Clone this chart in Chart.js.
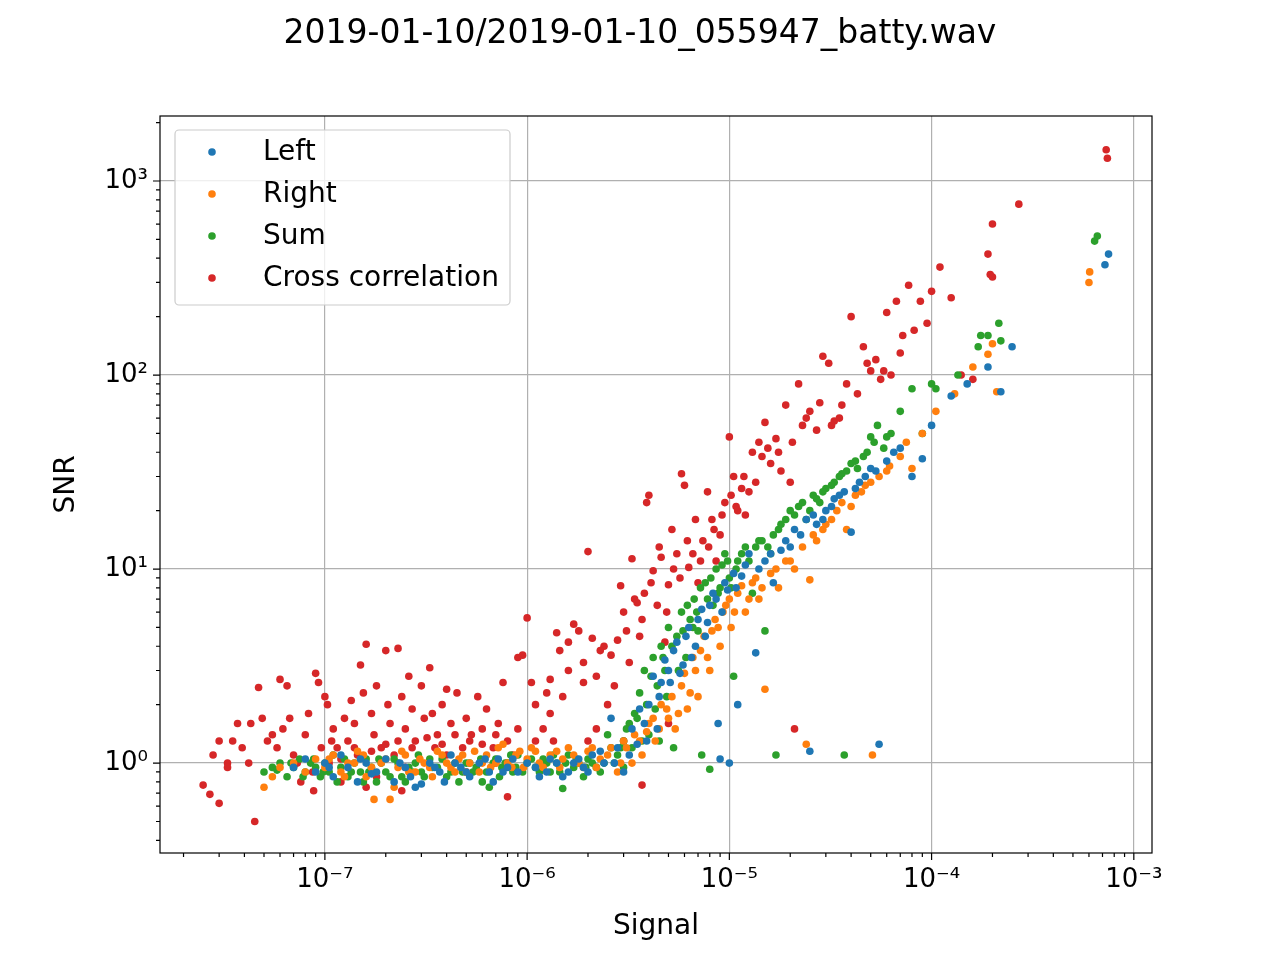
<!DOCTYPE html>
<html><head><meta charset="utf-8">
<script src="https://cdn.jsdelivr.net/npm/chart.js@4/dist/chart.umd.min.js"></script>
<style>body{margin:0;background:#fff}#wrap{width:1280px;height:960px}</style>
</head><body><div id="wrap"><canvas id="c" width="1280" height="960"></canvas></div>
<script>
const titleText = "2019-01-10/2019-01-10_055947_batty.wav";
const seriesNames = ["Left","Right","Sum","Cross correlation"];
const xTickLabels = {"-7":"10⁻⁷","-6":"10⁻⁶","-5":"10⁻⁵","-4":"10⁻⁴","-3":"10⁻³"};
const yTickLabels = {"0":"10⁰","1":"10¹","2":"10²","3":"10³"};

const leftPts = [[7e-8,0.95],[8e-8,1.05],[9e-8,0.9],[1e-7,1.0],[1.1e-7,0.85],[1.2e-7,1.1],[1.3e-7,0.95],[1.45e-7,0.8],[1.6e-7,1.0],[1.8e-7,0.9],[2e-7,1.05],[2.2e-7,0.8],[2.5e-7,0.95],[2.8e-7,0.75],[3e-7,0.78],[3.3e-7,1.0],[3.7e-7,0.9],[4.2e-7,1.1],[4.7e-7,0.95],[5.2e-7,0.85],[5.8e-7,1.0],[6.5e-7,0.9],[7.2e-7,1.05],[8e-7,0.95],[9e-7,0.9],[1e-6,1.0],[1.15e-6,0.85],[1.3e-6,1.05],[1.5e-6,0.85],[1.7e-6,1.0],[1.9e-6,0.95],[2.1e-6,1.1],[2.4e-6,1.0],[2.6e-6,1.7],[2.8e-6,1.2],[3e-6,0.9],[3.3e-6,1.5],[3.6e-6,1.9],[3.9e-6,1.3],[4.2e-6,2.8],[4.5e-6,2.2],[4.8e-6,3.4],[5.1e-6,2.6],[5.5e-6,4.2],[5.9e-6,3.2],[6.3e-6,5.0],[6.8e-6,4.0],[7.3e-6,6.2],[7.8e-6,5.3],[8.3e-6,7.5],[8.8e-6,1.6],[9e-6,1.05],[9.5e-6,8.5],[1e-5,1.0],[1.05e-5,9.5],[1.1e-5,2.0],[1.2e-5,10.5],[1.35e-5,3.7],[1.5e-5,11],[1.65e-5,8.5],[1.8e-5,12.5],[2e-5,13],[2.25e-5,15],[2.5e-5,1.15],[2.7e-5,17],[3e-5,20],[3.3e-5,23],[3.7e-5,25],[4e-5,15.5],[4.4e-5,28],[5e-5,33],[5.5e-5,1.25],[6e-5,36],[7e-5,42],[8e-5,30],[9e-5,37],[1e-4,55],[1.25e-4,78],[1.5e-4,90],[1.9e-4,110],[2.2e-4,82],[2.5e-4,140],[7.2e-4,370],[7.5e-4,420],
[1.05e-7,0.95],[1.5e-7,1.05],[1.7e-7,0.88],[2.35e-7,1.0],[2.65e-7,0.85],[3.5e-7,0.95],[3.9e-7,0.8],[4.4e-7,1.0],[5e-7,0.9],[6.2e-7,1.05],[6.8e-7,0.8],[7.6e-7,0.9],[8.5e-7,1.05],[1.1e-6,0.95],[1.25e-6,0.9],[1.4e-6,1.0],[1.6e-6,0.9],[1.8e-6,1.05],[2e-6,0.9],[2.3e-6,1.15],[2.7e-6,1.0],[3.2e-6,1.1],[3.5e-6,1.25],[3.8e-6,1.6],[4e-6,2.0],[4.4e-6,1.5],[4.6e-6,2.6],[5e-6,3.0],[5.3e-6,3.8],[5.7e-6,2.9],[6.1e-6,4.5],[6.5e-6,3.5],[7e-6,5.5],[7.6e-6,4.5],[8e-6,6.5],[8.6e-6,7.0],[9.2e-6,6.0],[9.8e-6,7.8],[1.08e-5,8.0],[1.15e-5,9.2],[1.25e-5,12],[1.4e-5,10],[1.6e-5,12],[1.9e-5,14],[2.1e-5,16],[2.4e-5,18],[2.6e-5,19],[2.9e-5,18],[3.2e-5,21],[3.5e-5,24],[4.2e-5,26],[4.7e-5,30],[5.3e-5,32],[6.5e-5,40]];

const rightPts = [[5e-8,0.75],[5.5e-8,0.85],[6e-8,0.95],[7e-8,1.0],[8e-8,0.9],[9e-8,1.05],[1e-7,0.95],[1.1e-7,1.1],[1.2e-7,0.9],[1.3e-7,1.0],[1.45e-7,1.15],[1.6e-7,0.85],[1.75e-7,0.65],[1.9e-7,1.0],[2.1e-7,0.65],[2.3e-7,0.95],[2.5e-7,1.1],[2.8e-7,0.9],[3.1e-7,1.0],[3.4e-7,0.85],[3.8e-7,1.1],[4.2e-7,0.95],[4.6e-7,1.05],[5e-7,0.9],[5.5e-7,1.15],[6e-7,1.0],[6.6e-7,0.95],[7.2e-7,1.2],[8e-7,1.0],[8.8e-7,1.1],[9.6e-7,0.95],[1.05e-6,1.2],[1.15e-6,1.0],[1.3e-6,1.1],[1.45e-6,0.95],[1.6e-6,1.2],[1.8e-6,1.0],[2e-6,1.15],[2.2e-6,0.95],[2.5e-6,1.1],[2.8e-6,0.9],[3.1e-6,1.2],[3.4e-6,1.4],[3.7e-6,1.1],[4e-6,1.6],[4.3e-6,1.3],[4.6e-6,2.0],[5e-6,1.7],[5.4e-6,1.5],[5.8e-6,2.5],[6.2e-6,1.9],[6.6e-6,3.5],[7e-6,2.2],[7.5e-6,4.5],[8e-6,3.0],[8.5e-6,5.5],[9e-6,4.0],[9.6e-6,6.5],[1.02e-5,5.0],[1.1e-5,7.5],[1.2e-5,6.0],[1.3e-5,8.5],[1.4e-5,7.0],[1.5e-5,2.4],[1.6e-5,9.5],[1.75e-5,8.0],[1.9e-5,11],[2.1e-5,10],[2.4e-5,1.25],[2.5e-5,8.8],[2.7e-5,14],[3e-5,17],[3.4e-5,20],[3.8e-5,16],[4.2e-5,24],[4.7e-5,27],[5.1e-5,1.1],[5.5e-5,30],[6.2e-5,34],[7e-5,38],[8e-5,33],[9e-5,50],[1.05e-4,65],[1.3e-4,80],[1.6e-4,110],[1.9e-4,128],[2e-4,145],[2.1e-4,82],[6e-4,300],[6.05e-4,340],
[1.05e-7,1.05],[1.25e-7,0.85],[1.4e-7,1.0],[1.55e-7,1.1],[1.7e-7,0.95],[2e-7,1.05],[2.2e-7,0.75],[2.4e-7,1.15],[2.6e-7,0.9],[2.95e-7,1.05],[3.3e-7,0.95],[3.6e-7,1.15],[4e-7,1.0],[4.4e-7,0.9],[4.8e-7,1.1],[5.2e-7,1.0],[5.8e-7,0.9],[6.3e-7,1.1],[7e-7,1.0],[7.6e-7,1.25],[8.4e-7,0.95],[9.2e-7,1.15],[1e-6,1.05],[1.1e-6,1.15],[1.2e-6,0.95],[1.4e-6,1.15],[1.5e-6,1.05],[1.7e-6,1.1],[1.9e-6,0.95],[2.1e-6,1.2],[2.3e-6,1.05],[2.6e-6,1.2],[2.9e-6,1.0],[3e-6,1.3],[3.3e-6,1.0],[3.6e-6,1.3],[3.9e-6,1.45],[4.2e-6,1.7],[4.5e-6,1.5],[4.9e-6,1.9],[5.2e-6,2.2],[5.6e-6,1.8],[6e-6,2.9],[6.4e-6,2.3],[6.8e-6,3.0],[7.2e-6,3.8],[7.8e-6,3.5],[8.2e-6,4.8],[8.8e-6,5.0],[9.3e-6,6.0],[1e-5,7.0],[1.06e-5,6.0],[1.15e-5,8.2],[1.25e-5,7.0],[1.35e-5,9.0],[1.45e-5,8.0],[1.7e-5,10],[2e-5,11],[2.3e-5,13],[2.6e-5,15],[2.9e-5,16],[3.2e-5,18],[3.6e-5,22],[4e-5,21],[4.5e-5,25],[5e-5,28],[6e-5,32],[7.5e-5,45]];

const sumPts = [[5e-8,0.9],[5.5e-8,0.95],[6e-8,1.0],[6.5e-8,0.85],[7e-8,0.95],[7.5e-8,1.05],[8e-8,0.9],[8.5e-8,1.0],[9e-8,0.95],[9.5e-8,0.85],[1e-7,1.0],[1.05e-7,0.9],[1.1e-7,1.1],[1.2e-7,0.95],[1.3e-7,0.85],[1.4e-7,1.0],[1.5e-7,0.9],[1.6e-7,1.05],[1.7e-7,0.95],[1.8e-7,0.8],[1.9e-7,1.0],[2e-7,0.9],[2.2e-7,1.05],[2.4e-7,0.85],[2.6e-7,0.95],[2.8e-7,1.0],[3e-7,0.9],[3.3e-7,1.05],[3.6e-7,0.95],[4e-7,0.85],[4.4e-7,1.0],[4.8e-7,0.9],[5.2e-7,1.0],[5.6e-7,0.95],[6e-7,0.8],[6.5e-7,0.75],[7e-7,1.05],[7.5e-7,0.95],[8e-7,1.0],[8.5e-7,0.9],[9e-7,1.1],[1e-6,1.0],[1.1e-6,0.95],[1.2e-6,1.05],[1.3e-6,0.9],[1.4e-6,1.0],[1.5e-6,0.74],[1.6e-6,1.1],[1.7e-6,0.95],[1.8e-6,1.0],[1.9e-6,0.85],[2e-6,1.05],[2.2e-6,0.95],[2.4e-6,1.0],[2.5e-6,1.4],[2.6e-6,1.2],[2.8e-6,1.1],[3e-6,1.3],[3e-6,0.95],[3.2e-6,1.6],[3.4e-6,1.8],[3.5e-6,1.7],[3.6e-6,2.3],[3.8e-6,3.0],[4e-6,1.4],[4.2e-6,3.5],[4.4e-6,2.5],[4.5e-6,1.3],[4.6e-6,4.0],[4.8e-6,3.0],[5e-6,5.0],[5.3e-6,1.2],[5.5e-6,4.5],[5.8e-6,6.0],[6.1e-6,3.5],[6.4e-6,5.5],[6.7e-6,7.0],[7e-6,4.8],[7.3e-6,1.1],[7.6e-6,8.5],[8e-6,0.93],[8.3e-6,6.5],[8.6e-6,10],[9e-6,8],[9.5e-6,12],[1e-5,9],[1.05e-5,2.8],[1.1e-5,11],[1.2e-5,13],[1.3e-5,7.5],[1.4e-5,14],[1.5e-5,4.8],[1.6e-5,12],[1.7e-5,1.1],[1.75e-5,16],[1.9e-5,18],[2e-5,20],[2.2e-5,21],[2.4e-5,18],[2.6e-5,24],[2.8e-5,22],[3e-5,26],[3.3e-5,28],[3.6e-5,31],[3.7e-5,1.1],[4e-5,35],[4.3e-5,33],[4.6e-5,38],[5e-5,48],[5.4e-5,55],[5.8e-5,42],[6.3e-5,50],[7e-5,65],[8e-5,85],[9e-5,50],[1e-4,90],[1.05e-4,85],[1.35e-4,100],[1.7e-4,140],[1.75e-4,160],[1.9e-4,160],[2.15e-4,185],[2.2e-4,150],[6.4e-4,490],[6.6e-4,520],
[5.8e-8,0.92],[6.8e-8,1.0],[7.8e-8,0.85],[8.8e-8,1.05],[9.8e-8,0.9],[1.15e-7,0.8],[1.25e-7,1.05],[1.35e-7,0.9],[1.55e-7,0.8],[1.65e-7,0.9],[1.85e-7,1.05],[2.1e-7,0.85],[2.3e-7,1.0],[2.5e-7,0.8],[2.7e-7,0.9],[2.9e-7,1.1],[3.1e-7,0.85],[3.4e-7,0.95],[3.8e-7,1.05],[4.2e-7,0.9],[4.6e-7,0.8],[5e-7,1.0],[5.4e-7,0.9],[5.9e-7,1.05],[6.3e-7,0.9],[6.8e-7,1.0],[7.3e-7,0.85],[7.8e-7,1.0],[8.3e-7,1.1],[8.8e-7,0.95],[9.5e-7,0.9],[1.05e-6,1.05],[1.15e-6,0.9],[1.25e-6,1.0],[1.35e-6,1.1],[1.45e-6,0.9],[1.55e-6,1.0],[1.75e-6,1.05],[1.95e-6,0.95],[2.1e-6,1.0],[2.3e-6,0.9],[2.7e-6,1.0],[2.9e-6,1.2],[3.1e-6,1.5],[3.3e-6,1.2],[3.7e-6,1.3],[3.9e-6,2.0],[4.1e-6,2.8],[4.3e-6,1.9],[4.7e-6,3.5],[4.9e-6,2.2],[5.2e-6,4.0],[5.6e-6,3.0],[5.9e-6,4.8],[6.2e-6,6.5],[6.6e-6,5.0],[6.9e-6,6.0],[7.2e-6,8.0],[7.8e-6,7.0],[8.1e-6,9.0],[8.8e-6,7.5],[9.2e-6,10.5],[9.8e-6,11],[1.02e-5,8.0],[1.08e-5,10],[1.15e-5,12],[1.25e-5,11],[1.35e-5,13],[1.45e-5,14],[1.55e-5,13],[1.65e-5,15],[1.8e-5,17],[2.1e-5,19],[2.3e-5,22],[2.5e-5,20],[2.7e-5,23],[2.9e-5,25],[3.2e-5,27],[3.5e-5,30],[3.8e-5,32],[4.2e-5,36],[4.8e-5,40],[5.2e-5,45],[6e-5,48]];

const crossPts = [[2.5e-8,0.77],[2.7e-8,0.69],[3e-8,0.62],[2.8e-8,1.1],[3e-8,1.3],[3.3e-8,1.0],[3.3e-8,0.95],[3.5e-8,1.3],[3.7e-8,1.6],[3.9e-8,1.2],[4.2e-8,1.0],[4.3e-8,1.6],[4.5e-8,0.5],[4.7e-8,2.45],[4.9e-8,1.7],[5.2e-8,1.3],[5.5e-8,1.4],[5.8e-8,1.2],[6e-8,2.7],[6.2e-8,1.5],[6.5e-8,2.5],[6.7e-8,1.7],[7e-8,1.1],[7.3e-8,1.0],[7.6e-8,0.8],[8e-8,1.4],[8.3e-8,1.8],[8.7e-8,0.9],[8.8e-8,0.72],[9e-8,2.9],[9.3e-8,2.6],[9.6e-8,1.2],[1e-7,2.2],[1.03e-7,2.0],[1.05e-7,1.0],[1.1e-7,1.5],[1.15e-7,1.2],[1.2e-7,0.8],[1.2e-7,1.05],[1.25e-7,1.7],[1.3e-7,1.3],[1.35e-7,2.1],[1.4e-7,1.6],[1.45e-7,1.1],[1.5e-7,3.2],[1.55e-7,2.3],[1.6e-7,4.1],[1.6e-7,0.75],[1.7e-7,1.8],[1.75e-7,1.4],[1.8e-7,2.5],[1.8e-7,0.85],[1.9e-7,1.2],[2e-7,3.8],[2.05e-7,2.0],[2.1e-7,1.6],[2.2e-7,1.1],[2.3e-7,3.9],[2.4e-7,2.2],[2.4e-7,0.72],[2.5e-7,1.5],[2.5e-7,0.95],[2.6e-7,2.8],[2.7e-7,1.9],[2.8e-7,1.3],[3e-7,2.5],[3.1e-7,1.7],[3.3e-7,3.1],[3.4e-7,1.8],[3.5e-7,1.2],[3.6e-7,1.4],[3.8e-7,2.0],[4e-7,2.4],[4e-7,1.1],[4.2e-7,1.6],[4.5e-7,2.3],[4.8e-7,1.2],[5e-7,1.7],[5e-7,0.9],[5.3e-7,1.4],[5.7e-7,2.2],[6e-7,1.5],[6.3e-7,1.9],[6.8e-7,1.2],[7e-7,1.0],[7.2e-7,1.6],[7.6e-7,2.6],[8e-7,0.67],[8.5e-7,1.1],[9e-7,3.5],[9.5e-7,3.6],[1e-6,5.6],[1.05e-6,2.6],[1.1e-6,2.0],[1.2e-6,1.5],[1.3e-6,2.7],[1.3e-6,1.8],[1.35e-6,1.3],[1.4e-6,4.7],[1.5e-6,2.2],[1.6e-6,3.0],[1.7e-6,5.2],[1.8e-6,4.8],[1.9e-6,2.6],[2e-6,12.3],[2e-6,1.3],[2.1e-6,4.4],[2.2e-6,2.8],[2.2e-6,1.5],[2.4e-6,4.0],[2.5e-6,2.0],[2.6e-6,3.6],[2.8e-6,4.3],[2.9e-6,8.2],[3e-6,6.0],[3e-6,1.3],[3.2e-6,3.3],[3.3e-6,11.3],[3.5e-6,6.7],[3.6e-6,4.5],[3.7e-6,0.77],[3.8e-6,7.5],[3.9e-6,22],[4e-6,24],[4.2e-6,9.8],[4.4e-6,6.5],[4.6e-6,11.5],[4.8e-6,4.2],[5e-6,8.3],[5e-6,1.6],[5.2e-6,16],[5.5e-6,12],[5.8e-6,31],[6e-6,27],[6.3e-6,10.2],[6.6e-6,12],[7e-6,8.5],[7.4e-6,14],[7.8e-6,25],[8.2e-6,18],[8.6e-6,11],[9e-6,15],[9.5e-6,22],[1e-5,48],[1.05e-5,30],[1.1e-5,20],[1.15e-5,26],[1.2e-5,19],[1.3e-5,40],[1.35e-5,28],[1.4e-5,45],[1.5e-5,57],[1.6e-5,35],[1.7e-5,47],[1.8e-5,32],[1.9e-5,70],[2e-5,28],[2.1e-5,1.5],[2.2e-5,90],[2.3e-5,55],[2.5e-5,65],[2.7e-5,52],[2.9e-5,125],[3.1e-5,115],[3.3e-5,58],[3.5e-5,60],[3.8e-5,90],[4e-5,200],[4.3e-5,80],[4.6e-5,140],[5e-5,105],[5.3e-5,120],[5.6e-5,95],[6e-5,210],[6.3e-5,100],[6.7e-5,240],[7.2e-5,160],[7.7e-5,290],[8.2e-5,170],[8.8e-5,240],[1e-4,270],[1.1e-4,360],[1.25e-4,250],[1.4e-4,100],[1.6e-4,95],[1.9e-4,420],[1.95e-4,330],[2e-4,600],[2e-4,320],[2.7e-4,760],[7.3e-4,1450],[7.4e-4,1310],
[1.08e-7,1.3],[1.4e-7,1.2],[1.7e-7,1.15],[2e-7,1.25],[2.3e-7,1.3],[2.7e-7,1.2],[3.2e-7,1.35],[3.8e-7,1.25],[4.4e-7,1.4],[5.2e-7,1.3],[6e-7,1.25],[7e-7,1.4],[8e-7,1.3],[9e-7,1.5],[1.1e-6,1.3],[1.25e-6,2.3],[1.45e-6,3.8],[1.6e-6,4.2],[1.9e-6,3.3],[2.3e-6,3.8],[2.7e-6,2.5],[3.1e-6,4.8],[3.4e-6,7.0],[3.7e-6,5.5],[4.1e-6,8.5],[4.5e-6,13],[4.9e-6,6.0],[5.3e-6,10],[5.7e-6,9.0],[6.2e-6,14],[6.8e-6,18],[7.2e-6,11],[7.9e-6,13],[8.4e-6,16],[9.2e-6,19],[1.02e-5,24],[1.08e-5,21],[1.18e-5,30],[1.25e-5,25],[1.45e-5,38],[1.55e-5,42],[1.75e-5,40],[2.05e-5,45],[2.4e-5,60],[2.8e-5,72],[3.2e-5,55],[3.6e-5,70],[4.8e-5,115],[5.8e-5,105],[7e-5,130],[9.5e-5,185]];

const colors = ["#1f77b4","#ff7f0e","#2ca02c","#d62728"];
const allPts = [leftPts,rightPts,sumPts,crossPts];
const FONT = "'DejaVu Sans', sans-serif";

function logTicks(scale){
  const t=[]; const lo=Math.floor(Math.log10(scale.min)), hi=Math.ceil(Math.log10(scale.max));
  for(let e=lo;e<=hi;e++) for(let m=1;m<10;m++){const v=m*Math.pow(10,e); if(v>=scale.min&&v<=scale.max) t.push({value:v});}
  scale.ticks=t;
}
const isMajor = v => Math.abs(Math.log10(v)-Math.round(Math.log10(v)))<1e-9;

const deco = {
  id:'deco',
  afterDraw(chart){
    const ctx=chart.ctx, a=chart.chartArea, xs=chart.scales.x, ys=chart.scales.y;
    ctx.save();
    ctx.strokeStyle='#000'; ctx.lineWidth=1.2;
    ctx.strokeRect(a.left,a.top,a.right-a.left,a.bottom-a.top);
    ctx.beginPath();
    xs.ticks.forEach(t=>{const p=xs.getPixelForValue(t.value); const L=isMajor(t.value)?7:4; ctx.moveTo(p,a.bottom); ctx.lineTo(p,a.bottom+L);});
    ys.ticks.forEach(t=>{const p=ys.getPixelForValue(t.value); const L=isMajor(t.value)?7:4; ctx.moveTo(a.left,p); ctx.lineTo(a.left-L,p);});
    ctx.stroke();
    ctx.fillStyle='#000';
    ctx.font='33px '+FONT; ctx.textAlign='center'; ctx.textBaseline='middle';
    ctx.fillText(titleText,640,34);
    ctx.font='28px '+FONT;
    ctx.fillText('Signal',(a.left+a.right)/2,927);
    ctx.translate(67,(a.top+a.bottom)/2); ctx.rotate(-Math.PI/2); ctx.fillText('SNR',0,0);
    ctx.setTransform(1,0,0,1,0,0);
    const lx=175, ly=130, lw=335, lh=175;
    ctx.fillStyle='rgba(255,255,255,0.8)'; ctx.strokeStyle='#ccc'; ctx.lineWidth=1.2;
    ctx.beginPath(); ctx.roundRect(lx,ly,lw,lh,4); ctx.fill(); ctx.stroke();
    ctx.textAlign='left'; ctx.font='28px '+FONT;
    seriesNames.forEach((n,i)=>{
      const y=152+i*42;
      ctx.fillStyle=colors[i]; ctx.beginPath(); ctx.arc(212,y,3.8,0,2*Math.PI); ctx.fill();
      ctx.fillStyle='#000'; ctx.fillText(n,263,y+1);
    });
    ctx.restore();
  }
};

new Chart(document.getElementById('c'),{
  type:'scatter',
  data:{datasets:allPts.map((pts,i)=>({label:seriesNames[i],data:pts.map(p=>({x:p[0],y:p[1]})),backgroundColor:colors[i],borderColor:colors[i],pointRadius:3.8,pointBorderWidth:0,pointHoverRadius:3.8}))},
  options:{
    responsive:false,animation:false,
    layout:{padding:{top:116,right:128,left:0,bottom:0}},
    plugins:{legend:{display:false},tooltip:{enabled:false}},
    scales:{
      x:{type:'logarithmic',bounds:'data',min:1.53e-8,max:1.23e-3,afterBuildTicks:logTicks,
        afterFit(s){s.height=107;},
        grid:{drawTicks:false,drawOnChartArea:true,color:c=>isMajor(c.tick.value)?'#b0b0b0':'rgba(0,0,0,0)',lineWidth:1.2},
        border:{display:false},
        ticks:{autoSkip:false,maxRotation:0,padding:12,color:'#000',font:{family:FONT,size:26},
          callback:v=>{const e=Math.round(Math.log10(v)); return isMajor(v)&&xTickLabels[e]?xTickLabels[e]:'';}}},
      y:{type:'logarithmic',bounds:'data',min:0.344,max:2163,afterBuildTicks:logTicks,
        afterFit(s){s.width=160;},
        grid:{drawTicks:false,color:c=>isMajor(c.tick.value)?'#b0b0b0':'rgba(0,0,0,0)',lineWidth:1.2},
        border:{display:false},
        ticks:{autoSkip:false,padding:12,color:'#000',font:{family:FONT,size:26},
          callback:v=>{const e=Math.round(Math.log10(v)); return isMajor(v)&&yTickLabels[e]!==undefined?yTickLabels[e]:'';}}}
    }
  },
  plugins:[deco]
});
</script></body></html>
